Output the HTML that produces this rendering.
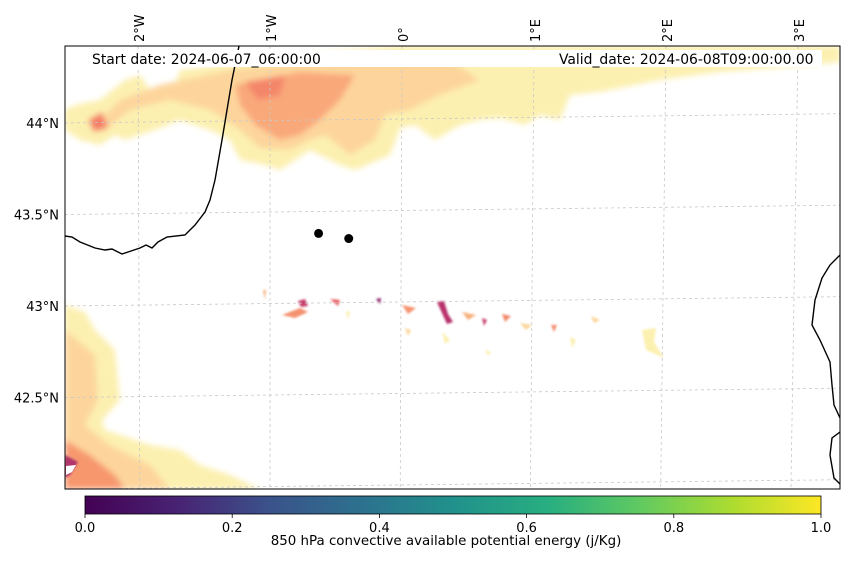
<!DOCTYPE html>
<html><head><meta charset="utf-8"><style>
body{margin:0;background:#fff;font-family:"Liberation Sans","DejaVu Sans",sans-serif}
svg text{font-family:"DejaVu Sans","Liberation Sans",sans-serif;font-size:13px;fill:#000}
</style></head><body>
<svg id="chart" width="850" height="558" viewBox="0 0 850 558" xmlns="http://www.w3.org/2000/svg">
<defs>
<clipPath id="clip"><rect x="65" y="46" width="775" height="443"/></clipPath>
<filter id="blur" x="-10%" y="-10%" width="120%" height="120%"><feGaussianBlur stdDeviation="3"/></filter>
<filter id="blur2"><feGaussianBlur stdDeviation="1"/></filter>
<linearGradient id="viridis" x1="0" x2="1" y1="0" y2="0">
<stop offset="0" stop-color="#440154"/><stop offset="0.13" stop-color="#482475"/><stop offset="0.25" stop-color="#3b528b"/><stop offset="0.38" stop-color="#2c728e"/><stop offset="0.5" stop-color="#21918c"/><stop offset="0.63" stop-color="#28ae80"/><stop offset="0.75" stop-color="#5ec962"/><stop offset="0.88" stop-color="#addc30"/><stop offset="1" stop-color="#fde725"/>
</linearGradient>
</defs>
<g clip-path="url(#clip)">
 <g>
  <g filter="url(#blur)">
   <path d="M65,110 L75,105 L100,100 L125,80 L140,75 L150,90 L170,100 L180,70 L300,55 L400,46 L840,46 L840,62 L800,66 L720,72 L660,80 L600,92 L570,95 L560,120 L540,115 L525,125 L500,118 L480,120 L460,125 L435,140 L415,125 L400,128 L390,155 L355,170 L340,165 L310,150 L295,160 L280,170 L265,165 L240,160 L230,140 L210,130 L180,120 L160,128 L140,135 L125,140 L115,135 L100,145 L80,140 L65,130 Z" fill="#fcf0b0"/>
   <path d="M95,125 L120,100 L160,85 L230,70 L330,58 L450,60 L480,80 L440,95 L410,110 L385,115 L375,140 L350,155 L325,135 L310,140 L290,150 L260,148 L240,130 L210,110 L170,100 L130,110 L105,130 Z" fill="#fdd59c"/>
   <path d="M235,85 L300,72 L355,75 L340,100 L320,120 L300,135 L280,140 L255,125 L240,105 Z" fill="#f9a87a"/>
   <path d="M88,120 L102,112 L108,128 L94,132 Z" fill="#f47e66"/>
   <path d="M245,82 L285,75 L280,95 L258,100 Z" fill="#f4866a"/>
   <path d="M65,305 L85,312 L95,330 L115,350 L120,400 L102,420 L105,430 L150,445 L180,450 L200,465 L230,475 L260,489 L65,489 Z" fill="#fcf0b0"/>
   <path d="M65,330 L95,355 L98,400 L85,425 L110,445 L150,465 L170,489 L65,489 Z" fill="#fdd59c"/>
   <path d="M65,440 L90,455 L115,475 L125,489 L65,489 Z" fill="#f7976e"/>
  </g>
  <path d="M65,455 L78,462 L70,475 L65,478 Z" fill="#b1356a" filter="url(#blur2)"/>
  <path d="M66,466 L76,465 L72,472 L66,475 Z" fill="#fff"/>
  <g filter="url(#blur2)">
   <path d="M282,315 L300,308 L308,312 L295,318 Z" fill="#f59370"/>
   <path d="M298,301 L305,299 L308,306 L301,307 Z" fill="#c83f6b"/>
   <path d="M330,299 L340,300 L338,306 Z" fill="#e65d5f"/>
   <path d="M376,299 L381,298 L380,304 Z" fill="#8a2168"/>
   <path d="M402,305 L416,308 L408,314 Z" fill="#f59370"/>
   <path d="M437,302 L444,301 L448,314 L453,322 L447,324 Z" fill="#b8336a"/>
   <path d="M462,312 L476,315 L468,320 Z" fill="#f7b07e"/>
   <path d="M482,318 L487,320 L484,326 Z" fill="#c73d6c"/>
   <path d="M502,314 L511,316 L505,322 Z" fill="#f28a6a"/>
   <path d="M520,323 L532,325 L526,330 Z" fill="#fcd69b"/>
   <path d="M551,325 L557,325 L554,332 Z" fill="#f28a6a"/>
   <path d="M591,316 L600,320 L594,323 Z" fill="#fcd69b"/>
   <path d="M642,330 L656,328 L654,342 L664,358 L646,350 Z" fill="#fcf0b0"/>
   <path d="M263,290 L266,290 L265,300 Z" fill="#f7b07e"/>
   <path d="M346,311 L350,312 L348,320 Z" fill="#fcf0b0"/>
   <path d="M405,328 L411,330 L408,336 Z" fill="#fcd69b"/>
   <path d="M442,332 L450,340 L445,344 Z" fill="#fcf0b0"/>
   <path d="M485,350 L491,352 L488,356 Z" fill="#fcf0b0"/>
   <path d="M570,337 L576,340 L572,348 Z" fill="#fcf0b0"/>
  </g>
 </g>
 <g id="grid" stroke="#c8c8c8" stroke-width="0.8" stroke-dasharray="3,3" fill="none"></g>
 <g fill="none" stroke="#000" stroke-width="1.4">
  <path d="M65,236 L72,237 L80,242 L95,248 L105,250 L112,249 L118,252 L122,254 L128,252 L140,248 L146,245 L152,248 L158,242 L167,237 L185,235 L195,225 L205,212 L210,200 L215,180 L222,140 L232,80 L239,46"/>
  <path d="M840,255 L830,265 L822,278 L815,300 L812,325 L820,340 L830,362 L832,385 L834,405 L840,418"/>
  <path d="M840,432 L832,438 L830,455 L834,478 L840,484"/>
 </g>
 <g id="points"></g>
</g>
<rect x="65" y="46" width="775" height="443" fill="none" stroke="#000" stroke-width="1"/>
<rect x="82" y="50" width="740" height="17" fill="#fff"/>
<text x="92" y="64" style="font-size:13.9px">Start date: 2024-06-07_06:00:00</text>
<text x="559" y="64" style="font-size:13.9px">Valid_date: 2024-06-08T09:00:00.00</text>
<g id="lonlabels"></g>
<g id="latlabels"></g>
<rect x="85" y="496" width="736" height="18" fill="url(#viridis)" stroke="#000" stroke-width="0.8"/>
<g id="cbticks"></g>
<text x="446" y="545" text-anchor="middle" style="font-size:13.4px">850 hPa convective available potential energy (j/Kg)</text>
</svg>
<script>
const lonTicks=[-2,-1,0,1,2,3];
const lonTickLabels=["2°W","1°W","0°","1°E","2°E","3°E"];
const latTicks=[44,43.5,43,42.5];
const latTickLabels=["44°N","43.5°N","43°N","42.5°N"];
const pointLons=[-0.63,-0.40];
const pointLats=[43.38,43.35];
const cbTicks=[0,0.2,0.4,0.6,0.8,1.0];
const cbTickLabels=["0.0","0.2","0.4","0.6","0.8","1.0"];
const NS="http://www.w3.org/2000/svg";
function xOf(lon,y){return 402+lon*132+(y-46)*(-0.004*lon-0.004);}
function yOf(lat,x){return 123+(44-lat)*183-(x-65)*0.012;}
function cbX(v){return 85+v*736;}
function mk(t,a,p){const e=document.createElementNS(NS,t);for(const k in a)e.setAttribute(k,a[k]);p.appendChild(e);return e;}
const grid=document.getElementById('grid');
lonTicks.forEach((lon)=>{
 const l=mk('line',{x1:xOf(lon,46),y1:46,x2:xOf(lon,489),y2:489},grid);
 
 
});
[44.5,44,43.5,43,42.5,42].forEach(lat=>{
 const l=mk('line',{x1:65,y1:yOf(lat,65),x2:840,y2:yOf(lat,840)},grid);
 
 
});
const lonG=document.getElementById('lonlabels');
lonTicks.forEach((lon,i)=>{
 const x=xOf(lon,46)+6;
 const t=mk('text',{x:x,y:42,transform:`rotate(-90 ${x} 42)`},lonG);
 t.textContent=lonTickLabels[i];
 
 
});
const latG=document.getElementById('latlabels');
latTicks.forEach((lat,i)=>{
 const t=mk('text',{x:59,y:yOf(lat,65)+5,'text-anchor':'end'},latG);
 t.textContent=latTickLabels[i];
 
 
});
const pg=document.getElementById('points');
pointLons.forEach((lon,i)=>{
 const y=yOf(pointLats[i],0)-1;
 const c=mk('circle',{cx:xOf(lon,y),cy:yOf(pointLats[i],xOf(lon,y)),r:4.5,fill:'#000'},pg);
 
 
});
const cb=document.getElementById('cbticks');
cbTicks.forEach((v,i)=>{
 const x=cbX(v);
 const l=mk('line',{x1:x,y1:514,x2:x,y2:518,stroke:'#000','stroke-width':0.8},cb);
 
 
 const t=mk('text',{x:x,y:532,'text-anchor':'middle'},cb);
 t.textContent=cbTickLabels[i];
 
 
});
</script>
</body></html>
